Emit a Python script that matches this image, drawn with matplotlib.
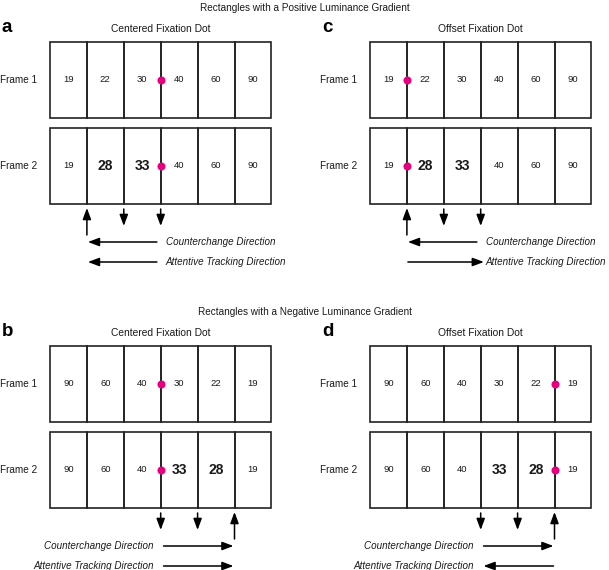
import matplotlib.pyplot as plt
from matplotlib.patches import Rectangle

plt.rcParams['font.family'] = ['Liberation Sans', 'DejaVu Sans']

# cell values (luminance) for each panel
pos_frame1 = [19, 22, 30, 40, 60, 90]
pos_frame2 = [19, 28, 33, 40, 60, 90]
neg_frame1 = [90, 60, 40, 30, 22, 19]
neg_frame2 = [90, 60, 40, 33, 28, 19]

panel_letters = ['a', 'c', 'b', 'd']
panel_titles = ['Centered Fixation Dot', 'Offset Fixation Dot',
                'Centered Fixation Dot', 'Offset Fixation Dot']
dot_divider = [3, 1, 3, 5]          # divider index carrying the fixation dot
up_divider = [1, 1, 5, 5]           # upward arrow
down_dividers = [[2, 3], [2, 3], [3, 4], [3, 4]]
counter_dir = ['left', 'left', 'right', 'right']
tracking_dir = ['left', 'right', 'right', 'left']
section_titles = ['Rectangles with a Positive Luminance Gradient',
                  'Rectangles with a Negative Luminance Gradient']

W, H = 609, 570
fig = plt.figure(figsize=(W / 100, H / 100), dpi=100)
ax = fig.add_axes([0, 0, 1, 1])
ax.set_xlim(0, W)
ax.set_ylim(H, 0)
ax.axis('off')

dot_color = '#e5007e'
cell_w = 36.9
box_h = 76
txt = '#1a1a1a'


def arrow(x0, y0, x1, y1):
    ax.annotate('', xy=(x1, y1), xytext=(x0, y0),
                arrowprops=dict(arrowstyle='-|>,head_length=0.75,head_width=0.28',
                                color='black', lw=1.1, shrinkA=0, shrinkB=0,
                                mutation_scale=9))


def panel(i, x0, y0, f1, f2):
    # y0 = top of frame 1 box
    ax.text(x0 - 48, y0 - 14, panel_letters[i], fontsize=13.5, fontweight='bold',
            ha='left', va='center')
    ax.text(x0 + 3 * cell_w, y0 - 13, panel_titles[i], fontsize=7.4, ha='center',
            va='center', color=txt)
    tops = [y0, y0 + 86]
    for k, (vals, top) in enumerate(zip([f1, f2], tops)):
        cy = top + box_h / 2
        ax.text(x0 - 50, cy, f'Frame {k + 1}', fontsize=7.2, ha='left', va='center',
                color=txt)
        for j, v in enumerate(vals):
            ax.add_patch(Rectangle((x0 + j * cell_w, top), cell_w, box_h,
                                   fill=False, ec='#222222', lw=1.2))
            changed = k == 1 and f2[j] != f1[j]
            ax.text(x0 + (j + 0.5) * cell_w, cy, str(v),
                    fontsize=10 if changed else 6.8,
                    fontweight='bold' if changed else 'normal',
                    ha='center', va='center', color=txt)
        ax.plot([x0 + dot_divider[i] * cell_w], [cy], 'o', ms=5.8,
                color=dot_color, mec='none', zorder=5)
    bottom = tops[1] + box_h
    xu = x0 + up_divider[i] * cell_w
    arrow(xu, bottom + 31, xu, bottom + 4)
    for d in down_dividers[i]:
        xd = x0 + d * cell_w
        arrow(xd, bottom + 5, xd, bottom + 22)
    # direction arrows
    ys = [bottom + 38, bottom + 58]
    labels = ['Counterchange Direction', 'Attentive Tracking Direction']
    dirs = [counter_dir[i], tracking_dir[i]]
    if up_divider[i] < 3:
        a0, a1 = xu + 1, xu + 70
        for y, lab, dr in zip(ys, labels, dirs):
            if dr == 'left':
                arrow(a1, y, a0, y)
            else:
                arrow(a0, y, a1 + 7, y)
            ax.text(a1 + 9, y, lab, fontsize=7.1, style='italic', ha='left',
                    va='center', color=txt)
    else:
        a0, a1 = xu - 71, xu - 1
        for y, lab, dr in zip(ys, labels, dirs):
            if dr == 'left':
                arrow(a1, y, a0, y)
            else:
                arrow(a0, y, a1, y)
            ax.text(a0 - 10, y, lab, fontsize=7.1, style='italic', ha='right',
                    va='center', color=txt)


ax.text(W / 2, 8, section_titles[0], fontsize=7.2, ha='center', va='center', color=txt)
ax.text(W / 2, 312, section_titles[1], fontsize=7.2, ha='center', va='center', color=txt)

panel(0, 50, 42, pos_frame1, pos_frame2)
panel(1, 370, 42, pos_frame1, pos_frame2)
panel(2, 50, 346, neg_frame1, neg_frame2)
panel(3, 370, 346, neg_frame1, neg_frame2)

fig.savefig('out.png', dpi=100)
